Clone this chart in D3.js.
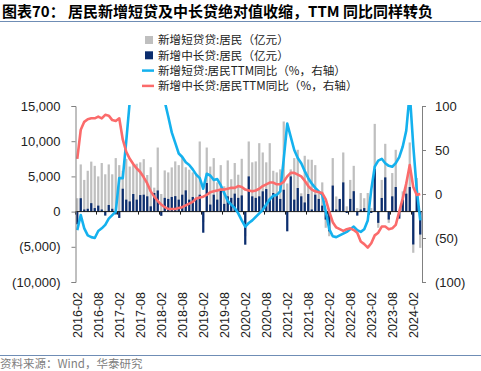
<!DOCTYPE html>
<html>
<head>
<meta charset="utf-8">
<script src="https://cdn.jsdelivr.net/npm/d3@7"></script>
<style>
  body { margin: 0; background: #fff; }
  svg { display: block; font-family: "Liberation Sans", Arial, sans-serif; }
  .cjk { font-family: "Noto Sans CJK SC", "Liberation Sans", sans-serif; }
</style>
</head>
<body>
<script>
// chart size
const w = 481;
const h = 371;

// months 2016-02 .. 2024-04 (category axis)
const months = d3.timeMonth.range(new Date(2016, 1, 1), new Date(2024, 4, 1));
const fmtMonth = d3.timeFormat("%Y-%m");
const tickLabels = ["2016-02","2016-08","2017-02","2017-08","2018-02","2018-08","2019-02","2019-08",
                    "2020-02","2020-08","2021-02","2021-08","2022-02","2022-08","2023-02","2023-08","2024-02"];

// 新增短贷:居民 (亿元)
const shortLoan = [1900,6700,4500,5800,7100,6500,5000,6900,5300,6700,5300,7600,6600,5800,7500,6400,6600,6800,7000,
                   7450,5200,6300,3400,9100,2500,5850,5570,6280,7130,6600,7740,6300,5950,5570,5200,9960,-1500,9100,6400,
                   7600,4150,6600,3600,7270,4600,6900,5240,7500,-3500,9960,7000,7130,9720,8400,7000,9720,5800,5570,6000,
                   12800,4000,6000,7600,8780,2600,7930,7400,7360,6600,2600,4150,-2300,-3500,7600,2150,1700,8400,750,4500,
                   6500,500,2640,1900,2640,500,12460,-2300,4500,9630,-1600,5475,8780,-700,2880,4150,9820,-5850,4770,-5150];
// 新增中长贷:居民 (亿元)
const longLoan = [-1800,1900,300,400,1200,500,850,300,-570,940,400,-400,-900,3250,1700,1450,2500,1700,2350,
                  2400,2170,750,2640,3000,-600,1950,1800,2080,2200,1700,2400,3020,1700,2080,1950,2400,-3000,4060,1000,
                  2400,1700,3100,1100,2170,1950,2550,1950,2300,-4700,5000,2170,1950,2170,2880,3200,1700,2640,2400,1800,
                  3100,-2800,5000,1700,3350,2170,1300,2500,300,2400,1800,850,-1130,-2800,3700,300,1800,4150,-200,1800,
                  2900,-570,300,500,100,-200,6040,-1600,1935,4860,-1130,2170,3490,-1000,1700,2550,3490,-4670,2880,-3260];
// 新增短贷:居民TTM同比 (%, 右轴)
const shortTTM = [-41,-24,-39,-47,-49,-50,-42,-39,-35,-28,-24,-20,18,18,60,105,140,165,185,
                  200,210,200,180,150,125,105,88,70,58,46,42,36,33,28,22,18,6,23,21,
                  16,17,10,1,-8,-12,-16,-22,-30,-37,-33,-30,-26,-22,-18,-12,-6,-2,-1,3,
                  40,80,65,50,41,35,26,18,12,7,3,-1,-20,-40,-48,-49,-47,-45,-43,-40,
                  -37,-41,-43,-40,-30,5,31,38,40,35,32,31,35,42,54,72,115,55,5,-30];
// 新增中长贷:居民TTM同比 (%, 右轴)
const longTTM = [40,73,82,85,86,86,88,86,90,89,84,83,86,62,48,40,34,29,25,
                 19,12,3,-3,-8,-12,-15,-17,-17,-17,-16,-15,-13,-11,-9,-5,-4,-3,-1,2,
                 3,4,5,5,6,7,7,9,8,5,4,3,4,6,9,11,13,13,11,11,
                 14,20,24,24,22,20,15,9,5,3,2,1,-6,-20,-32,-38,-40,-42,-40,-39,
                 -41,-44,-54,-57,-61,-56,-47,-44,-37,-37,-40,-39,-35,-20,-5,12,33,8,-1,0];

const leftTicks = [-10000,-5000,0,5000,10000,15000];
const rightTicks = [-100,-50,0,50,100];

const legendItems = [
  {name: "新增短贷贷:居民（亿元）", type: "bar", color: "#bfbfbf"},
  {name: "新增中长贷:居民（亿元）", type: "bar", color: "#0b2d6e"},
  {name: "新增短贷:居民TTM同比（%，右轴）", type: "line", color: "#14b1ee"},
  {name: "新增中长贷:居民TTM同比（%，右轴）", type: "line", color: "#fb6b6b"}
];

const data = months.map((m, i) => ({
  key: fmtMonth(m), s: shortLoan[i], l: longLoan[i], st: shortTTM[i], lt: longTTM[i]
}));

const plot = {left: 75.5, right: 422, top: 106, bottom: 282};

const xScale = d3.scaleBand()
                 .domain(data.map(d => d.key))
                 .range([plot.left, plot.right])
                 .paddingInner(0.36)
                 .paddingOuter(0.18);

const yLeft = d3.scaleLinear().domain([-10000, 15000]).range([plot.bottom, plot.top]);
const yRight = d3.scaleLinear().domain([-100, 100]).range([plot.bottom, plot.top]);

const svg = d3.select("body").append("svg")
              .attr("width", w)
              .attr("height", h);

svg.append("rect").attr("width", w).attr("height", h).attr("fill", "#fff");

// title
svg.append("text")
   .attr("class", "cjk")
   .attr("x", 2).attr("y", 17)
   .attr("font-size", 15).attr("font-weight", "bold").attr("fill", "#000")
   .text("图表70：  居民新增短贷及中长贷绝对值收缩，TTM 同比同样转负");
svg.append("line")
   .attr("x1", 0).attr("x2", w).attr("y1", 21.5).attr("y2", 21.5)
   .attr("stroke", "#6f8db5").attr("stroke-width", 1);

// legend
const legend = svg.append("g").attr("class", "cjk");
legendItems.forEach((d, i) => {
  const ly = 40 + i * 15.3;
  if (d.type === "bar") {
    legend.append("rect").attr("x", 145).attr("y", ly - 4).attr("width", 8).attr("height", 8).attr("fill", d.color);
  } else {
    legend.append("line").attr("x1", 142).attr("x2", 154).attr("y1", ly).attr("y2", ly)
          .attr("stroke", d.color).attr("stroke-width", 2.5);
  }
  legend.append("text").attr("x", 158).attr("y", ly + 4.2)
        .attr("font-size", 11.6).attr("fill", "#222").text(d.name);
});

// bars
const zeroY = yLeft(0);
svg.append("g").selectAll("rect")
   .data(data).join("rect")
   .attr("x", d => xScale(d.key))
   .attr("width", xScale.bandwidth())
   .attr("y", d => Math.min(yLeft(d.s), zeroY))
   .attr("height", d => Math.abs(yLeft(d.s) - zeroY))
   .attr("fill", "#bfbfbf");

svg.append("g").selectAll("rect")
   .data(data).join("rect")
   .attr("x", d => xScale(d.key))
   .attr("width", xScale.bandwidth())
   .attr("y", d => Math.min(yLeft(d.l), zeroY))
   .attr("height", d => Math.abs(yLeft(d.l) - zeroY))
   .attr("fill", "#0b2d6e");

// zero axis line with small ticks
const gap = (xScale.step() - xScale.bandwidth()) / 2;
const zeroAxis = svg.append("g");
zeroAxis.append("line")
        .attr("x1", plot.left).attr("x2", plot.right)
        .attr("y1", zeroY).attr("y2", zeroY)
        .attr("stroke", "#1a1a1a").attr("stroke-width", 1);
zeroAxis.selectAll(".zt").data(tickLabels).join("line")
        .attr("class", "zt")
        .attr("x1", d => xScale(d) - gap).attr("x2", d => xScale(d) - gap)
        .attr("y1", zeroY).attr("y2", zeroY + 3)
        .attr("stroke", "#1a1a1a");

// lines (clipped to plot)
svg.append("clipPath").attr("id", "clip")
   .append("rect").attr("x", plot.left).attr("y", plot.top - 1)
   .attr("width", plot.right - plot.left).attr("height", plot.bottom - plot.top + 1);

const lineShort = d3.line()
                    .x(d => xScale(d.key) + xScale.bandwidth() / 2)
                    .y(d => yRight(d.st));
const lineLong = d3.line()
                   .x(d => xScale(d.key) + xScale.bandwidth() / 2)
                   .y(d => yRight(d.lt));

svg.append("path")
   .datum(data)
   .attr("d", lineShort)
   .attr("clip-path", "url(#clip)")
   .attr("fill", "none").attr("stroke", "#14b1ee").attr("stroke-width", 2.6)
   .attr("stroke-linejoin", "round");

svg.append("path")
   .datum(data)
   .attr("d", lineLong)
   .attr("clip-path", "url(#clip)")
   .attr("fill", "none").attr("stroke", "#fb6b6b").attr("stroke-width", 2.6)
   .attr("stroke-linejoin", "round");

// axes
const numFmt = d3.format(",");
const paren = v => v < 0 ? "(" + numFmt(-v) + ")" : numFmt(v);

const leftAxis = d3.axisLeft(yLeft).tickValues(leftTicks).tickFormat(paren)
                   .tickSize(4).tickPadding(11);
const rightAxis = d3.axisRight(yRight).tickValues(rightTicks).tickFormat(paren)
                    .tickSize(4).tickPadding(9);

const gl = svg.append("g").attr("transform", "translate(" + plot.left + ",0)").call(leftAxis);
const gr = svg.append("g").attr("transform", "translate(" + plot.right + ",0)").call(rightAxis);
[gl, gr].forEach(g => {
  g.select(".domain").attr("stroke", "#808080");
  g.selectAll(".tick line").attr("stroke", "#808080");
  g.selectAll(".tick text").attr("font-size", 13).attr("fill", "#222")
   .attr("font-family", "'Liberation Sans', Arial, sans-serif");
});

// bottom labels
const bottomAxis = d3.axisBottom(xScale).tickValues(tickLabels).tickSize(0);
const gb = svg.append("g").attr("transform", "translate(0," + plot.bottom + ")").call(bottomAxis);
gb.select(".domain").remove();
gb.selectAll(".tick text")
  .attr("font-size", 12.5).attr("fill", "#222")
  .attr("font-family", "'Liberation Sans', Arial, sans-serif")
  .attr("text-anchor", "end")
  .attr("transform", "rotate(-90)")
  .attr("x", -10).attr("y", 0).attr("dy", "0.35em");

// source
svg.append("line")
   .attr("x1", 0).attr("x2", w).attr("y1", 355.5).attr("y2", 355.5)
   .attr("stroke", "#6f8db5").attr("stroke-width", 1);
svg.append("text")
   .attr("class", "cjk")
   .attr("x", 0).attr("y", 368)
   .attr("font-size", 11.5).attr("fill", "#808080")
   .text("资料来源：Wind，华泰研究");
</script>
</body>
</html>
